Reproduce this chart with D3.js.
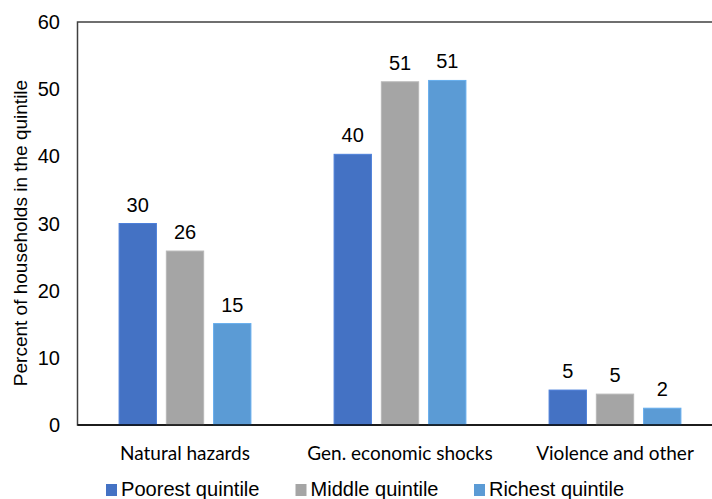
<html>
<head>
<meta charset="UTF-8">
<script src="https://d3js.org/d3.v7.min.js"></script>
<style>
  body { margin: 0; background: #fff; }
  text { font-family: "Liberation Sans", Arial, sans-serif; fill: #000; }
</style>
</head>
<body>
<svg id="chart" width="712" height="499"></svg>
<script>
const categories = ["Natural hazards", "Gen. economic shocks", "Violence and other"];
const series = ["Poorest quintile", "Middle quintile", "Richest quintile"];
const poorest = [30, 40.3, 5.2];
const middle = [25.9, 51.1, 4.6];
const richest = [15.1, 51.3, 2.5];
const labels = [["30", "40", "5"], ["26", "51", "5"], ["15", "51", "2"]];
const yTicks = [0, 10, 20, 30, 40, 50, 60];
const colors = ["#4472C4", "#A5A5A5", "#5B9BD5"];

const values = [poorest, middle, richest];
const svg = d3.select("#chart");

const plotLeft = 77.5, plotTop = 22, plotBottom = 425, groupStep = 215;
const x = d3.scaleBand().domain(categories).range([plotLeft, plotLeft + groupStep * 3]);
const xs = d3.scaleBand().domain(series).range([0, x.bandwidth()]).paddingInner(0.21).paddingOuter(0.88);
const y = d3.scaleLinear().domain([0, 60]).range([plotBottom, plotTop]);

// plot border (runs past the right edge like the original)
svg.append("rect")
  .attr("x", plotLeft).attr("y", plotTop)
  .attr("width", 700).attr("height", plotBottom - plotTop)
  .attr("fill", "none").attr("stroke", "#404040").attr("stroke-width", 1.5);

// y tick labels
svg.append("g").selectAll("text").data(yTicks).enter()
  .append("text")
  .attr("x", 60).attr("y", d => y(d))
  .attr("dy", "0.35em")
  .attr("text-anchor", "end")
  .style("font-size", "20px")
  .text(d => d);

// y title
svg.append("text")
  .attr("transform", "translate(27,233) rotate(-90)")
  .attr("text-anchor", "middle")
  .style("font-size", "19px")
  .text("Percent of households in the quintile");

// bars
series.forEach(function (s, i) {
  const g = svg.append("g");
  g.selectAll("rect").data(values[i]).enter()
    .append("rect")
    .attr("x", (d, j) => x(categories[j]) + xs(s))
    .attr("y", d => y(d))
    .attr("width", xs.bandwidth())
    .attr("height", d => plotBottom - y(d))
    .attr("fill", colors[i])
    .attr("stroke", d3.color(colors[i]).brighter(0.3))
    .attr("stroke-width", 1);
  g.selectAll("text").data(values[i]).enter()
    .append("text")
    .attr("x", (d, j) => x(categories[j]) + xs(s) + xs.bandwidth() / 2)
    .attr("y", d => y(d) - 12)
    .attr("text-anchor", "middle")
    .style("font-size", "20px")
    .text((d, j) => labels[i][j]);
});

// x axis line
svg.append("line")
  .attr("x1", plotLeft).attr("x2", 712)
  .attr("y1", plotBottom).attr("y2", plotBottom)
  .attr("stroke", "#000").attr("stroke-width", 1.5);

// category labels
svg.append("g").selectAll("text").data(categories).enter()
  .append("text")
  .attr("x", d => x(d) + x.bandwidth() / 2)
  .attr("y", 460)
  .attr("text-anchor", "middle")
  .style("font-family", "Lato, 'Open Sans', sans-serif")
  .style("font-size", "19px")
  .text(d => d);

// legend
const legendX = [106, 295.5, 474];
const legendW = [138.5, 128, 135];
const lg = svg.append("g").selectAll("g").data(series).enter()
  .append("g")
  .attr("transform", (d, i) => "translate(" + legendX[i] + ",0)");
lg.append("rect")
  .attr("y", 484)
  .attr("width", 11).attr("height", 12)
  .attr("fill", (d, i) => colors[i]);
lg.append("text")
  .attr("x", 15).attr("y", 495.5)
  .attr("textLength", (d, i) => legendW[i])
  .attr("lengthAdjust", "spacingAndGlyphs")
  .style("font-size", "21px")
  .text(d => d);
</script>
</body>
</html>
